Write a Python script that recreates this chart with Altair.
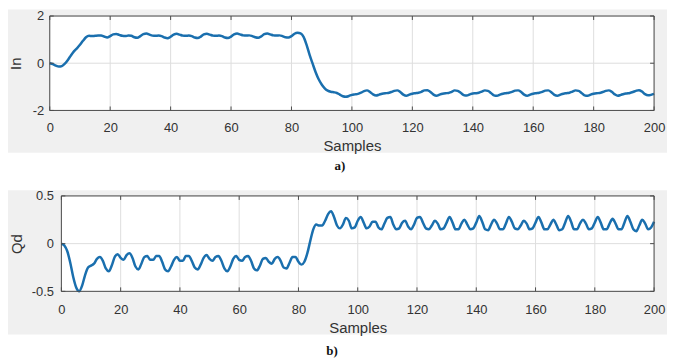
import altair as alt
import pandas as pd

# ---------------- data ----------------
in_values = [
    0.00, -0.04, -0.10, -0.14, -0.12, -0.02, 0.14, 0.33, 0.50, 0.63,
    0.78, 0.95, 1.10, 1.16, 1.15, 1.16, 1.17, 1.17, 1.13, 1.09,
    1.15, 1.22, 1.24, 1.20, 1.16, 1.15, 1.17, 1.16, 1.10, 1.08,
    1.15, 1.23, 1.26, 1.21, 1.17, 1.16, 1.17, 1.15, 1.09, 1.06,
    1.12, 1.21, 1.25, 1.21, 1.17, 1.16, 1.17, 1.15, 1.09, 1.07,
    1.13, 1.22, 1.25, 1.21, 1.17, 1.16, 1.17, 1.15, 1.09, 1.07,
    1.13, 1.22, 1.26, 1.22, 1.18, 1.17, 1.18, 1.15, 1.10, 1.08,
    1.14, 1.23, 1.26, 1.22, 1.18, 1.17, 1.18, 1.15, 1.10, 1.09,
    1.15, 1.25, 1.29, 1.26, 1.12, 0.78, 0.35, -0.02, -0.38, -0.68,
    -0.90, -1.06, -1.16, -1.21, -1.23, -1.26, -1.33, -1.40, -1.42, -1.39,
    -1.34, -1.32, -1.30, -1.25, -1.18, -1.15, -1.22, -1.32, -1.37, -1.33,
    -1.29, -1.27, -1.26, -1.22, -1.17, -1.15, -1.22, -1.33, -1.38, -1.33,
    -1.29, -1.27, -1.25, -1.21, -1.15, -1.14, -1.22, -1.33, -1.38, -1.33,
    -1.29, -1.27, -1.26, -1.21, -1.15, -1.17, -1.25, -1.35, -1.37, -1.32,
    -1.28, -1.27, -1.25, -1.20, -1.15, -1.17, -1.26, -1.36, -1.38, -1.33,
    -1.29, -1.27, -1.25, -1.21, -1.16, -1.15, -1.22, -1.33, -1.38, -1.33,
    -1.29, -1.27, -1.25, -1.21, -1.16, -1.15, -1.23, -1.34, -1.38, -1.33,
    -1.29, -1.27, -1.25, -1.20, -1.15, -1.17, -1.26, -1.36, -1.38, -1.33,
    -1.29, -1.27, -1.26, -1.22, -1.17, -1.15, -1.21, -1.32, -1.38, -1.34,
    -1.30, -1.28, -1.26, -1.22, -1.17, -1.14, -1.20, -1.31, -1.36, -1.34,
    -1.30,
]

qd_values = [
    0.00, -0.02, -0.08, -0.20, -0.35, -0.46, -0.50, -0.44, -0.33, -0.25,
    -0.23, -0.21, -0.16, -0.14, -0.18, -0.26, -0.29, -0.23, -0.14, -0.11,
    -0.15, -0.17, -0.12, -0.10, -0.15, -0.24, -0.27, -0.21, -0.14, -0.13,
    -0.17, -0.17, -0.13, -0.13, -0.19, -0.27, -0.29, -0.24, -0.17, -0.14,
    -0.18, -0.18, -0.13, -0.13, -0.18, -0.25, -0.27, -0.22, -0.15, -0.12,
    -0.16, -0.18, -0.14, -0.13, -0.18, -0.26, -0.29, -0.24, -0.16, -0.13,
    -0.17, -0.18, -0.14, -0.13, -0.18, -0.26, -0.28, -0.23, -0.16, -0.15,
    -0.19, -0.21, -0.16, -0.14, -0.18, -0.25, -0.26, -0.20, -0.14, -0.14,
    -0.19, -0.22, -0.19, -0.10, 0.03, 0.15, 0.20, 0.19, 0.19, 0.24,
    0.31, 0.34, 0.28, 0.19, 0.16, 0.20, 0.27, 0.24, 0.16, 0.17,
    0.24, 0.28, 0.22, 0.16, 0.18, 0.23, 0.23, 0.17, 0.15, 0.21,
    0.27, 0.28, 0.20, 0.15, 0.16, 0.22, 0.24, 0.18, 0.15, 0.20,
    0.27, 0.28, 0.22, 0.16, 0.15, 0.19, 0.24, 0.21, 0.15, 0.16,
    0.22, 0.28, 0.22, 0.15, 0.15, 0.21, 0.25, 0.20, 0.15, 0.16,
    0.22, 0.29, 0.23, 0.15, 0.14, 0.20, 0.25, 0.21, 0.15, 0.15,
    0.21, 0.28, 0.23, 0.16, 0.15, 0.19, 0.24, 0.21, 0.15, 0.16,
    0.22, 0.28, 0.22, 0.15, 0.15, 0.20, 0.25, 0.20, 0.14, 0.15,
    0.22, 0.29, 0.23, 0.15, 0.15, 0.21, 0.25, 0.21, 0.15, 0.16,
    0.22, 0.28, 0.22, 0.15, 0.15, 0.21, 0.26, 0.21, 0.15, 0.15,
    0.22, 0.29, 0.23, 0.15, 0.13, 0.19, 0.25, 0.21, 0.15, 0.17,
    0.23,
]

x_ticks = [0, 20, 40, 60, 80, 100, 120, 140, 160, 180, 200]
in_ticks = [-2, 0, 2]
qd_ticks = [-0.5, 0, 0.5]
x_domain = [0, 200]
x_title = "Samples"
y_titles = ["In", "Qd"]
captions = ["a)", "b)"]

# ---------------- style ----------------
LINE = "#1a6fae"
PANEL_BG = "#f0f0f0"
FRAME = "#4d4d4d"
GRID = "#dedede"
TEXT = "#333333"
FONT = "Liberation Sans"
W = 608
TICK = 4


def panel(values, yticks, ytitle, caption, H, x0, ylab_pad, ytitle_pad,
          ylabel_expr, xlab_pad, bg_y, cap_xy):
    df = pd.DataFrame({"s": list(range(len(values))), "v": values})
    xt = pd.DataFrame({"t": x_ticks})
    yt = pd.DataFrame({"t": yticks})
    frame_df = pd.DataFrame({"x0": [x_domain[0]], "x1": [x_domain[1]],
                             "y0": [yticks[0]], "y1": [yticks[-1]]})
    one = pd.DataFrame({"c": [caption]})

    xs = alt.Scale(domain=x_domain, range=[x0, W], nice=False, zero=False)
    ys = alt.Scale(domain=[yticks[0], yticks[-1]], nice=False, zero=False)

    xa = alt.Axis(
        values=x_ticks, title=x_title, grid=False, domain=False,
        ticks=False, tickSize=0, labelFlush=False, labelOverlap=False,
        labelFont=FONT, labelFontSize=13, labelColor=TEXT,
        labelPadding=xlab_pad, titleFont=FONT, titleFontSize=15,
        titleFontWeight="normal", titleColor=TEXT, titlePadding=4,
        zindex=1)
    ya = alt.Axis(
        values=yticks, title=ytitle, grid=False, domain=False,
        ticks=False, tickSize=0, labelFlush=False, labelOverlap=False,
        labelExpr=ylabel_expr, labelFont=FONT, labelFontSize=13,
        labelColor=TEXT, labelPadding=ylab_pad, titleFont=FONT,
        titleFontSize=15, titleFontWeight="normal", titleColor=TEXT,
        titlePadding=ytitle_pad, offset=-x0, zindex=1)

    bg = alt.Chart(one).mark_rect(fill=PANEL_BG).encode(
        x=alt.value(-42), x2=alt.value(W + 13),
        y=alt.value(bg_y[0]), y2=alt.value(bg_y[1]))

    plot_bg = alt.Chart(frame_df).mark_rect(fill="white").encode(
        x=alt.X("x0:Q", scale=xs, axis=xa), x2="x1",
        y=alt.Y("y0:Q", scale=ys, axis=ya), y2="y1")

    xgrid = alt.Chart(xt).mark_rule(color=GRID, strokeWidth=1).encode(
        x=alt.X("t:Q", scale=xs, axis=xa),
        y=alt.value(0), y2=alt.value(H))
    ygrid = alt.Chart(yt).mark_rule(color=GRID, strokeWidth=1).encode(
        y=alt.Y("t:Q", scale=ys, axis=ya),
        x=alt.value(x0), x2=alt.value(W))

    line = alt.Chart(df).mark_line(
        color=LINE, strokeWidth=2.5, interpolate="monotone").encode(
        x=alt.X("s:Q", scale=xs, axis=xa),
        y=alt.Y("v:Q", scale=ys, axis=ya),
    )

    frame = alt.Chart(frame_df).mark_rect(
        fillOpacity=0, stroke=FRAME, strokeWidth=1).encode(
        x=alt.X("x0:Q", scale=xs, axis=xa), x2="x1",
        y=alt.Y("y0:Q", scale=ys, axis=ya), y2="y1")

    xtick_b = alt.Chart(xt).mark_rule(color=FRAME, strokeWidth=1).encode(
        x=alt.X("t:Q", scale=xs, axis=xa),
        y=alt.value(H - TICK), y2=alt.value(H))
    xtick_t = alt.Chart(xt).mark_rule(color=FRAME, strokeWidth=1).encode(
        x=alt.X("t:Q", scale=xs, axis=xa),
        y=alt.value(0), y2=alt.value(TICK))
    ytick_l = alt.Chart(yt).mark_rule(color=FRAME, strokeWidth=1).encode(
        y=alt.Y("t:Q", scale=ys, axis=ya),
        x=alt.value(x0), x2=alt.value(x0 + TICK))
    ytick_r = alt.Chart(yt).mark_rule(color=FRAME, strokeWidth=1).encode(
        y=alt.Y("t:Q", scale=ys, axis=ya),
        x=alt.value(W - TICK), x2=alt.value(W))

    cap = alt.Chart(one).mark_text(
        font="Liberation Serif", fontWeight="bold", fontSize=13,
        color="#111111", align="center", baseline="middle").encode(
        text="c:N", x=alt.value(cap_xy[0]), y=alt.value(cap_xy[1]))

    return alt.layer(bg, plot_bg, xgrid, ygrid, line, frame,
                     xtick_b, xtick_t, ytick_l, ytick_r, cap).properties(
        width=W, height=H)


top = panel(in_values, in_ticks, y_titles[0], captions[0], H=95, x0=0,
            ylab_pad=6, ytitle_pad=9,
            ylabel_expr="(datum.value < 0 ? '-' : '') + format(abs(datum.value), 'd')",
            xlab_pad=11, bg_y=(-6.5, 137.5), cap_xy=(292, 150.5))

bottom = panel(qd_values, qd_ticks, y_titles[1], captions[1], H=96, x0=11.7,
               ylab_pad=8, ytitle_pad=7,
               ylabel_expr="datum.value == 0 ? '0' : (datum.value < 0 ? '-' : '') + format(abs(datum.value), '.1f')",
               xlab_pad=12, bg_y=(-5.7, 139.3), cap_xy=(284, 156.3))

chart = alt.vconcat(top, bottom, spacing=86, bounds="flush").properties(
    padding=0).configure_view(strokeWidth=0)

chart.save("out.html", embed_options={"renderer": "svg", "actions": False})
